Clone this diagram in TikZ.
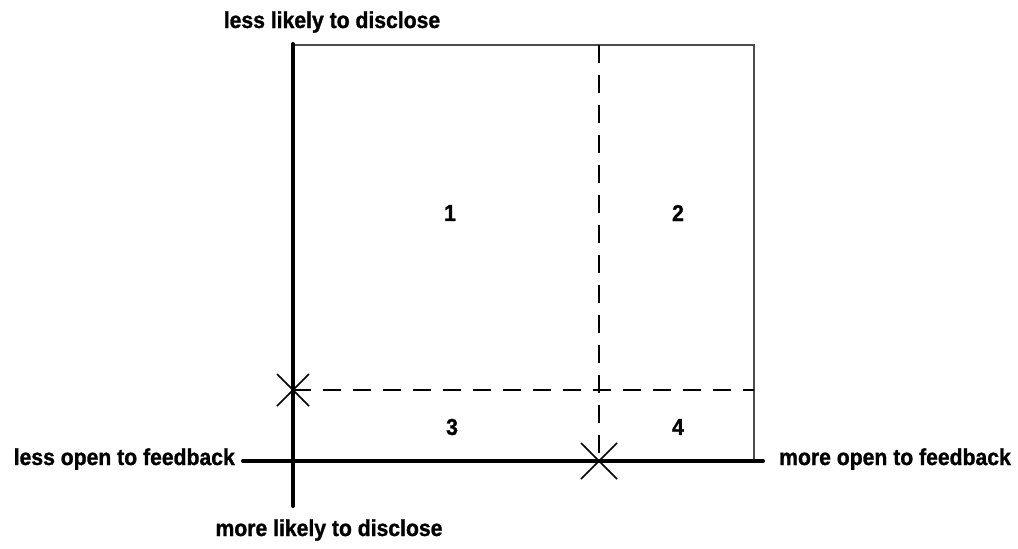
\documentclass[tikz,border=0pt]{standalone}
\usepackage{fontspec}
\newfontfamily\lblfont[FakeStretch=0.92,FakeBold=1.2]{Liberation Sans}
\usepackage{tikz}

\begin{document}
\begin{tikzpicture}[x=1pt,y=-1pt,
    axis/.style={line width=4pt,line cap=round},
    frame/.style={line width=1.5pt,draw=black!70},
    divide/.style={line width=2.2pt,dash pattern=on 18pt off 12pt},
    star/.style={line width=1.5pt},
    lbl/.style={font=\lblfont\bfseries\fontsize{23}{26}\selectfont,inner sep=0pt}]
    \useasboundingbox(0,0)rectangle(1018,549);
    % corners and ends
    \coordinate(top)at(293,44);\coordinate(bot)at(293,506);
    \coordinate(left)at(243,461);\coordinate(right)at(763,461);
    \coordinate(tr)at(754,45);\coordinate(br)at(754,461);
    \coordinate(dtop)at(599,45);\coordinate(dbot)at(599,461);
    \coordinate(dl)at(293,390);\coordinate(dr)at(754,390);

    \draw[frame](top|-tr)--(tr)--(br);
    \draw[divide](dtop)--(dbot);\draw[divide](dl)--(dr);
    \draw[axis](top)--(bot);\draw[axis](left)--(right);
    \foreach\c/\r in{dl/16,dbot/18}{\draw[star]([shift={(-\r,-\r)}]\c)--([shift={(\r,\r)}]\c);\draw[star]([shift={(-\r,\r)}]\c)--([shift={(\r,-\r)}]\c);};

    \node[lbl,anchor=base](less)at(332,28){less likely to disclose};
    \node[lbl,anchor=base](more)at(329,536){more likely to disclose};
    \node[lbl,anchor=base east](closed)at(235,465){less open to feedback};
    \node[lbl,anchor=base west](open)at(779,465){more open to feedback};
    \node[lbl](q1)at(450,213){1};\node[lbl](q2)at(678,213){2};
    \node[lbl](q3)at(452,427){3};\node[lbl](q4)at(678,427){4};
\end{tikzpicture}
\end{document}
